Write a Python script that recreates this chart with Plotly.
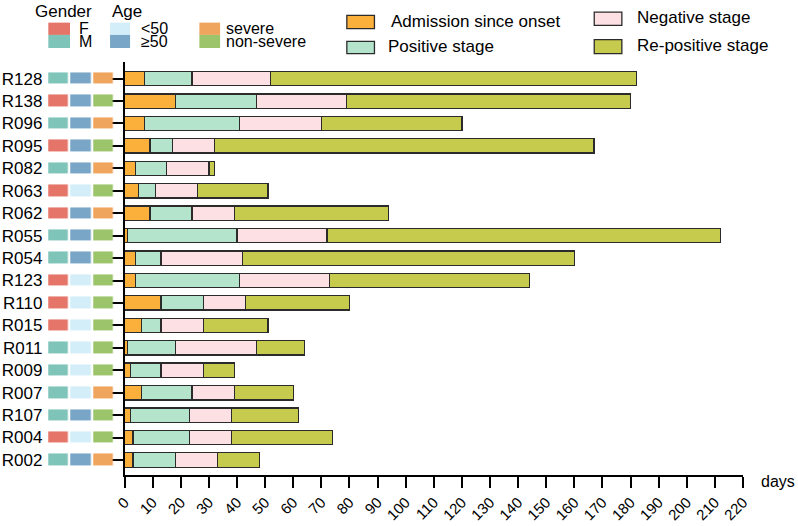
import plotly.graph_objects as go

# ---------------- data ----------------
patients = ["R128", "R138", "R096", "R095", "R082", "R063", "R062", "R055", "R054",
            "R123", "R110", "R015", "R011", "R009", "R007", "R107", "R004", "R002"]
admission = [7, 18, 7, 9, 4, 5, 9, 1, 4, 4, 13, 6, 1, 2, 6, 2, 3, 3]
positive = [17, 29, 34, 8, 11, 6, 15, 39, 9, 37, 15, 7, 17, 11, 18, 21, 20, 15]
negative = [28, 32, 29, 15, 15, 15, 15, 32, 29, 32, 15, 15, 29, 15, 15, 15, 15, 15]
repositive = [130, 101, 50, 135, 2, 25, 55, 140, 118, 71, 37, 23, 17, 11, 21, 24, 36, 15]

gender = ["M", "F", "M", "F", "M", "F", "F", "M", "M", "F", "F", "F", "M", "M", "M", "M", "F", "M"]
age = [">=50", ">=50", ">=50", ">=50", ">=50", "<50", ">=50", ">=50", ">=50", "<50", "<50", "<50",
       "<50", "<50", "<50", ">=50", "<50", ">=50"]
severity = ["severe", "non-severe", "severe", "non-severe", "severe", "non-severe", "severe",
            "non-severe", "non-severe", "non-severe", "non-severe", "non-severe", "non-severe",
            "non-severe", "severe", "non-severe", "non-severe", "severe"]

x_ticks = list(range(0, 221, 10))

stage_names = ["Admission since onset", "Positive stage", "Negative stage", "Re-positive stage"]
stage_colors = ["#FBB03B", "#B4E5CC", "#FDE0E3", "#C6CB4D"]

attr_codes = {"F": 0, "M": 1, "<50": 2, ">=50": 3, "severe": 4, "non-severe": 5}
attr_colors = ["#E57469", "#7FC4B9", "#D3EEF8", "#79A6C6", "#F0A55E", "#9CC46B"]

FONT = "Arial, Liberation Sans, sans-serif"

# ---------------- geometry helpers ----------------
W, H = 798, 526
ML, MR, MT, MB = 0, 55.3, 61.7, 51
PW = W - ML - MR
PH = H - MT - MB


def px(x):
    return (x - ML) / PW


def py(y):
    return (H - MB - y) / PH


fig = go.Figure()

# stacked bars
for name, vals, col in zip(stage_names, [admission, positive, negative, repositive], stage_colors):
    fig.add_trace(go.Bar(
        y=patients, x=vals, name=name, orientation="h",
        marker=dict(color=col, line=dict(color="#2b2b2b", width=1.3)),
        width=0.64, showlegend=False, xaxis="x", yaxis="y",
    ))

# attribute squares (heatmap)
z = [[attr_codes[g], attr_codes[a], attr_codes[s]] for g, a, s in zip(gender, age, severity)]
n = len(attr_colors)
cs = []
for i, c in enumerate(attr_colors):
    cs.append([i / n, c])
    cs.append([(i + 1) / n, c])
fig.add_trace(go.Heatmap(
    z=z, x=["Gender", "Age", "Severity"], y=patients,
    colorscale=cs, zmin=-0.5, zmax=n - 0.5, showscale=False,
    xgap=2.4, ygap=11, xaxis="x2", yaxis="y", hoverinfo="skip",
))

fig.update_layout(
    width=W, height=H,
    margin=dict(l=ML, r=MR, t=MT, b=MB, autoexpand=False),
    paper_bgcolor="white", plot_bgcolor="white",
    barmode="stack", bargap=0.36,
    font=dict(family=FONT, size=17, color="black"),
    xaxis=dict(
        domain=[px(124.5), 1], range=[0, 220], tickvals=x_ticks,
        ticktext=[str(v) for v in x_ticks],
        showgrid=False, zeroline=False, showline=True, linecolor="black", linewidth=1.5,
        ticks="outside", ticklen=11, tickwidth=1.5, tickcolor="black",
        tickangle=-45, tickfont=dict(size=15), anchor="y",
    ),
    xaxis2=dict(
        domain=[px(47.2), px(114.1)], showgrid=False, zeroline=False, showline=False,
        showticklabels=False, ticks="", anchor="y", fixedrange=True,
    ),
    yaxis=dict(
        categoryorder="array", categoryarray=patients, range=[17.67, -0.74],
        showgrid=False, zeroline=False, showline=True, linecolor="black", linewidth=1.5,
        ticks="outside", ticklen=12, tickwidth=1.5, tickcolor="black",
        ticklabelstandoff=65, tickfont=dict(size=17), anchor="x",
    ),
)

shapes = []
annotations = []

# top-right legend for stages
leg_items = [
    (346.7, 15, 28.3, 389, 21, 0),
    (346.7, 41, 53.3, 386, 46, 1),
    (594, 11.7, 25, 635, 17, 2),
    (594, 39.3, 53.3, 635, 45, 3),
]
for x0, y0, y1, tx, ty, i in leg_items:
    shapes.append(dict(type="rect", xref="paper", yref="paper",
                       x0=px(x0), x1=px(x0 + 27.6), y0=py(y1), y1=py(y0),
                       fillcolor=stage_colors[i], line=dict(color="#2b2b2b", width=1.3)))
    annotations.append(dict(xref="paper", yref="paper", x=px(tx), y=py(ty), text=stage_names[i],
                            showarrow=False, xanchor="left", yanchor="middle",
                            font=dict(size=17)))

# top-left legend for attributes
annotations.append(dict(xref="paper", yref="paper", x=px(33), y=py(11.5), text="Gender",
                        showarrow=False, xanchor="left", yanchor="middle", font=dict(size=17)))
annotations.append(dict(xref="paper", yref="paper", x=px(110), y=py(11), text="Age",
                        showarrow=False, xanchor="left", yanchor="middle", font=dict(size=17)))
attr_leg = [
    (48.3, 70, 77.3, ["F", "M"], [0, 1]),
    (110, 130, 139.3, ["<50", "≥50"], [2, 3]),
    (199.3, 220, 224, ["severe", "non-severe"], [4, 5]),
]
for x0, x1, tx, labels, idx in attr_leg:
    for k, (lab, ci) in enumerate(zip(labels, idx)):
        ya, yb = (22.3, 34.6) if k == 0 else (34.6, 47.7)
        shapes.append(dict(type="rect", xref="paper", yref="paper",
                           x0=px(x0), x1=px(x1), y0=py(yb), y1=py(ya),
                           fillcolor=attr_colors[ci], line=dict(width=0)))
        annotations.append(dict(xref="paper", yref="paper", x=px(tx), y=py((ya + yb) / 2),
                                text=lab, showarrow=False, xanchor="left", yanchor="middle",
                                font=dict(size=16)))

# axis title "days"
annotations.append(dict(xref="paper", yref="paper", x=px(759), y=py(482), text="days",
                        showarrow=False, xanchor="left", yanchor="middle", font=dict(size=16)))

fig.update_layout(shapes=shapes, annotations=annotations)

fig.write_html("out.html", config={"displayModeBar": False},
               post_script="document.body.style.margin='0';document.body.style.padding='0';")
